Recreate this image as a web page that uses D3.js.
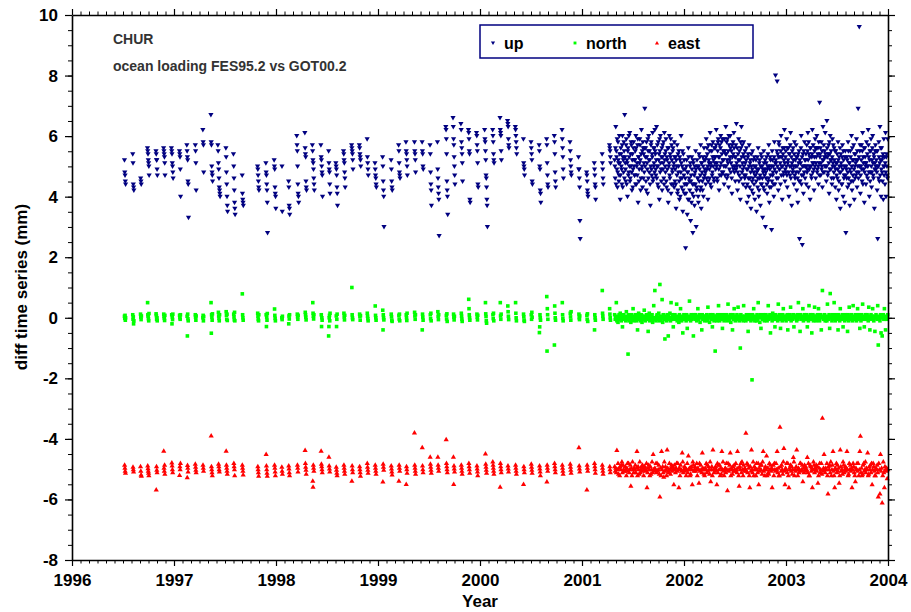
<!DOCTYPE html>
<html>
<head>
<meta charset="utf-8">
<script src="https://cdn.jsdelivr.net/npm/d3@7"></script>
<style>
body { margin: 0; background: #fff; }
svg text { font-family: "Liberation Sans", Arial, Helvetica, sans-serif; font-weight: bold; }
</style>
</head>
<body>
<svg id="chart" width="911" height="612"></svg>
<script>
// axis ticks
const yearTicks = [1996, 1997, 1998, 1999, 2000, 2001, 2002, 2003, 2004];
const valueTicks = [-8, -6, -4, -2, 0, 2, 4, 6, 8, 10];

// sparse period: one column of daily values roughly every four weeks
const sparseEpochs = [
  1996.520, 1996.601, 1996.676, 1996.748, 1996.830, 1996.905, 1996.983, 1997.059, 1997.134, 1997.213,
  1997.287, 1997.370, 1997.441, 1997.517, 1997.591, 1997.674, 1997.826, 1997.909, 1997.990, 1998.060,
  1998.129, 1998.213, 1998.291, 1998.366, 1998.448, 1998.523, 1998.595, 1998.670, 1998.748, 1998.824,
  1998.899, 1998.977, 1999.052, 1999.134, 1999.209, 1999.281, 1999.363, 1999.438, 1999.517, 1999.591,
  1999.674, 1999.745, 1999.821, 1999.895, 1999.974, 2000.059, 2000.131, 2000.203, 2000.277, 2000.353,
  2000.431, 2000.507, 2000.588, 2000.660, 2000.735, 2000.811, 2000.889, 2000.974, 2001.052, 2001.127,
  2001.203, 2001.275
];

const upSparse = [
  [5.2,4.8,4.7,4.5,4.4], [5.4,5.1,4.4,4.3,4.2], [4.6,4.5,4.4], [5.6,5.5,5.4,5.2,5.1,5.0,4.7],
  [5.5,5.4,5.2,5.2,4.9,4.7], [5.6,5.5,5.4,5.3,5.1,4.7], [5.6,5.5,5.4,5.1,5.0,4.8,4.6], [5.5,5.4,5.3,4.9,4.0],
  [5.7,5.5,5.3,5.2,4.5,4.4,3.3], [5.7,5.5,5.1,4.2], [6.2,5.8,5.7,4.8], [6.7,5.8,5.7,5.0,4.8,4.7,4.5],
  [5.7,5.5,5.1,4.9,4.6,4.3,4.2,4.1,4.0], [5.6,5.3,4.8,4.4,4.0,3.7,3.5], [5.4,5.0,4.6,4.2,3.8,3.6,3.4], [4.7,4.1,3.9,3.8,3.7],
  [5.0,4.9,4.7,4.5,4.3,4.2], [5.1,4.8,4.7,4.4,4.2,3.8,2.8], [5.2,5.0,4.9,4.3,4.1,4.0,3.6], [5.0,3.5],
  [4.5,4.3,3.7,3.6,3.4], [6.0,5.7,5.5,5.0,4.4,4.1,4.0,3.8], [6.1,5.6,5.4,5.3,4.5,4.3,4.2], [5.7,5.5,5.2,5.1,4.9,4.6,4.4,4.2],
  [5.7,5.3,5.2,5.0,4.8,4.7,4.0], [5.5,5.1,4.9,4.8,4.4,4.1], [5.1,5.0,4.9,4.7,4.3,4.1,3.7], [5.5,5.4,5.2,5.1,4.8,4.6,4.3],
  [5.7,5.6,5.5,5.4,5.2,4.9], [5.7,5.6,5.4,5.3,5.2,5.0], [5.9,5.3,5.1,4.9,4.7], [5.1,4.9,4.7,4.6,4.4,4.3],
  [5.3,5.0,4.5,4.2,4.0,3.0], [5.2,4.9,4.5,4.3,4.2], [5.7,5.5,5.1,4.8,4.7,4.6], [5.8,5.5,5.4,5.2,5.0,4.7],
  [5.8,5.5,5.4,5.2,4.8], [5.8,5.5,5.4,5.0,4.9], [5.7,5.4,4.8,4.4,4.2,3.7], [5.8,4.9,4.6,4.3,4.1,3.9,2.7],
  [6.3,6.2,5.9,5.4,4.5,4.2,4.0,3.4], [6.6,6.3,5.9,5.7,5.3,5.0,4.7,4.4], [6.4,6.2,5.8,5.6,5.4,5.1,4.5], [6.2,6.1,5.9,5.5,5.4,3.9,3.8],
  [6.1,6.0,5.7,5.5,5.1,4.4,4.3], [6.2,5.9,5.8,5.5,5.2,4.7,4.6,4.3,3.9,3.7,3.0], [6.2,6.0,5.8,5.4,5.2,5.1], [6.6,6.2,6.1,6.0,5.5,5.2],
  [6.5,6.4,6.3,5.9,5.7,5.6], [6.3,6.2,6.0,5.8,5.6,5.4], [5.9,5.1,5.0,4.9,4.7], [5.8,5.6,5.4,5.2,4.5,4.4],
  [5.7,5.5,5.0,4.9,4.2,4.1,3.8], [5.9,5.7,5.1,4.7,4.4,4.3], [6.0,5.8,5.4,4.8,4.5,4.3], [6.2,5.9,5.6,5.3,4.9,4.6],
  [5.8,5.5,5.2,5.0,4.8,4.7], [5.3,4.9,4.9,4.6,4.3,3.2,2.6], [4.8,4.7,4.5,4.2,4.1,4.0], [5.1,4.9,4.7,4.4,4.3,3.9],
  [5.4,5.1,4.9,4.6,4.4], [5.7,5.6,5.5,5.3,5.1]
];

const northSparse = [
  [0.05,-0.02,0.08,-0.08,0], [0.1,-0.05,0.03,-0.2,-0.1], [0.12,0.02,-0.06,0.06], [0.5,0.1,0.05,-0.03,-0.1,0.14],
  [0.13,0.07,-0.05,0,-0.1], [0.12,0.04,-0.02,-0.09,0.08], [0.1,-0.2,0.03,-0.06,0.12], [0.08,0,-0.05,0.1],
  [0.05,-0.6,0.12,-0.03,-0.1], [0.1,0.02,-0.08,0.06], [0,0.08,-0.1,0.04], [0.5,-0.51,0.1,0.02,-0.08,0.13],
  [0.18,0.06,-0.02,-0.1,0.1], [0.2,0.08,-0.05,0.12,-0.09], [0.12,0.03,-0.07,0.18,-0.1], [0.79,0.1,0,-0.08],
  [0.15,0.05,-0.05,-0.1,0.1], [0.1,-0.29,0.02,-0.08,0.14], [0.29,0.08,-0.02,-0.1], [0,-0.06,0.05],
  [-0.2,0.06,-0.04,0.1], [0.12,0.03,-0.05,0.08], [0.18,0.1,0.02,-0.07], [0.5,0.15,0.05,-0.04,0.1],
  [0.1,-0.29,0,-0.08], [-0.6,-0.29,0,0.08,-0.1,0.15], [0.06,-0.29,-0.05,0.12], [0.15,0.03,-0.07,0.08],
  [1.0,0.1,0,-0.06], [0.12,0.04,-0.08,0.07], [0.15,0.05,-0.03,-0.1], [0.39,0.08,0,-0.08],
  [0.25,-0.4,0.1,0,-0.07], [0.12,0.03,-0.08,-0.12], [0.08,-0.04,0.12,-0.1], [0.1,0,-0.09,0.15],
  [0.18,0.06,-0.05,0.1], [-0.4,0.12,0.02,-0.08], [0.1,-0.03,0.15,-0.1], [0.2,0.05,-0.06,0.1],
  [0.08,-0.04,0.13,-0.12], [0.12,0.02,-0.07,0.05], [0.15,0.05,-0.05,-0.12], [0.61,0.3,0.1,0,-0.08],
  [0.12,0.02,-0.07,0.08], [0.5,0.13,0.04,-0.1,-0.18], [0.1,-0.03,0.15,-0.1], [0.5,0.06,-0.05,0.12],
  [0.39,0.2,0.05,-0.06], [0.5,0.15,0,-0.1], [0.12,0.03,-0.08,-0.12], [0.1,-0.05,0.18,0.02],
  [-0.49,-0.3,0.1,0,-0.08], [0.7,-1.1,0.3,0.1,-0.05], [-0.9,0.39,0.15,0,-0.08], [0.5,0.1,-0.02,-0.1],
  [0.15,0.03,-0.08,0.2], [0.12,0,-0.06,0.06], [0.08,-0.05,0.13,-0.12], [-0.4,0.1,0,-0.08],
  [0.9,0.15,0.05,-0.05], [0.3,0.12,0,-0.08]
];

const eastSparse = [
  [-4.85,-4.95,-5.05,-5.12], [-4.92,-5.0,-5.08], [-4.9,-5.05,-5.18,-5.22], [-4.88,-4.97,-5.05,-5.12,-5.2],
  [-5.67,-4.9,-5.02,-5.1], [-4.39,-4.95,-5.05,-4.85,-5.15], [-4.78,-4.88,-5.0,-5.1], [-5.19,-4.9,-5.0,-4.8],
  [-5.27,-4.86,-4.95,-5.08], [-4.82,-4.92,-5.02,-5.1], [-4.85,-4.95,-5.05], [-3.89,-4.9,-5.0,-5.1,-5.2],
  [-4.82,-4.9,-5.0,-5.08], [-4.39,-4.85,-4.95,-5.05,-5.15], [-4.8,-4.9,-5.0,-5.2], [-4.85,-4.95,-5.05,-5.18],
  [-4.9,-5.0,-5.1,-5.22], [-4.5,-4.88,-5.0,-5.12,-5.22], [-4.85,-4.95,-5.08,-5.2], [-4.92,-5.05,-5.15],
  [-4.88,-4.98,-5.1,-5.2], [-4.85,-4.95,-5.08], [-4.37,-4.8,-4.92,-5.02,-5.15], [-5.38,-5.58,-4.85,-4.95,-5.05],
  [-4.39,-4.82,-4.9,-5.0,-5.1], [-4.59,-4.88,-4.98,-5.08], [-4.92,-5.02,-5.12,-5.2], [-4.85,-4.95,-5.05,-5.15],
  [-5.38,-4.88,-5.0,-5.1], [-4.9,-5.0,-5.1,-5.22], [-4.8,-4.92,-5.02,-5.12], [-4.85,-4.95,-5.05,-5.15],
  [-5.41,-4.82,-4.92,-5.02], [-4.88,-4.98,-5.08,-5.18], [-5.38,-4.85,-4.95,-5.05], [-5.49,-4.9,-5.0,-5.12],
  [-3.79,-4.85,-4.95,-5.05,-5.15], [-4.28,-4.88,-5.0,-5.1], [-4.59,-4.82,-4.92,-5.02,-5.12], [-4.59,-4.85,-4.95,-5.05],
  [-4.01,-4.8,-4.9,-5.0,-5.1], [-4.59,-5.49,-4.88,-4.98,-5.08], [-4.85,-4.95,-5.05,-5.15], [-4.8,-4.9,-5.0,-5.12],
  [-4.88,-4.98,-5.08,-5.2], [-4.48,-4.82,-4.92,-5.02,-5.12], [-4.75,-4.85,-4.95,-5.05,-5.15], [-5.58,-4.8,-4.9,-5.0,-5.1],
  [-4.88,-4.98,-5.08], [-4.85,-4.95,-5.05,-5.15], [-5.49,-4.9,-5.0,-5.1], [-4.82,-4.92,-5.02,-5.12],
  [-4.88,-4.98,-5.08,-5.2], [-5.41,-4.85,-4.95,-5.05], [-4.8,-4.9,-5.0,-5.1], [-4.85,-4.95,-5.05,-5.15],
  [-4.82,-4.92,-5.02,-5.12], [-4.28,-4.88,-4.98,-5.08], [-5.67,-4.85,-4.95,-5.05], [-4.8,-4.9,-5.0,-5.12],
  [-4.85,-4.95,-5.05,-5.15], [-4.9,-5.0,-5.1]
];

// dense period: a value every second day from denseStart to the end of 2003
const denseStart = 2001.32;
const denseStepDays = 2;

const upDense = [
  5.2,4.6,6.3,5.5,4.9,4.3,5.8,5.1,4.7,5.4,3.9,5.6,5.0,4.4,6.0,5.3,4.8,5.5,
  6.7,5.1,4.5,5.9,5.2,4.0,5.6,4.8,5.3,6.1,4.6,5.0,5.7,4.2,5.4,4.9,5.8,5.2,
  4.7,5.5,6.0,4.4,5.1,5.7,3.8,5.3,4.9,5.9,5.2,4.6,6.2,5.0,4.3,5.6,5.4,4.8,
  6.9,5.3,4.5,5.8,5.1,4.1,5.5,6.0,4.8,5.2,3.7,5.7,4.9,5.4,6.1,4.6,5.0,5.6,
  6.2,5.4,4.7,6.3,5.0,4.4,5.8,5.2,3.9,5.5,6.0,4.9,5.3,4.2,5.7,5.1,4.6,6.1,
  5.4,4.8,5.9,4.3,5.2,5.6,3.8,5.0,6.0,4.6,5.3,4.1,5.7,4.9,5.5,4.4,5.1,5.8,
  4.5,5.3,3.6,5.0,5.7,4.2,4.8,5.5,3.9,5.2,4.6,6.0,4.3,5.0,3.5,5.4,4.7,4.1,
  4.9,2.3,4.4,5.2,3.4,4.8,5.6,3.9,4.5,5.0,3.2,4.7,5.3,4.1,2.8,5.1,4.4,3.7,
  4.8,5.5,3.0,4.3,5.0,4.6,3.8,5.4,4.9,4.2,5.7,3.6,5.1,4.5,5.3,4.0,5.6,4.7,
  5.2,4.4,5.9,4.9,5.4,3.9,5.7,5.1,4.6,6.1,5.0,4.3,5.5,4.8,5.8,5.2,4.5,5.3,
  5.6,4.9,6.2,5.1,4.5,5.8,5.3,4.2,5.7,5.0,6.0,4.7,5.4,5.9,4.8,5.2,4.4,5.5,
  5.0,6.3,5.4,4.6,5.9,5.1,4.3,5.7,5.2,6.0,4.8,5.5,4.1,5.3,5.8,4.9,5.6,5.0,
  4.5,5.7,6.4,5.0,4.2,5.4,5.9,4.7,5.2,3.9,5.6,6.3,4.8,5.1,4.4,5.8,5.3,4.6,
  5.1,4.3,5.6,3.8,4.9,5.4,4.0,5.7,4.6,5.2,3.6,5.0,4.5,5.5,4.1,4.8,5.3,3.9,
  4.7,5.2,3.5,4.9,4.3,5.6,4.0,5.1,4.6,3.7,5.4,4.4,5.0,3.3,4.8,5.5,4.2,4.9,
  3.0,4.6,5.3,4.1,5.0,4.5,5.7,3.8,4.9,5.2,4.3,2.9,5.5,4.7,5.0,4.0,5.8,4.4,
  8.0,5.1,4.6,7.8,5.4,4.2,5.8,4.9,5.3,4.4,6.0,5.0,3.9,5.6,4.7,5.2,6.2,4.5,
  5.3,4.8,5.9,4.3,5.1,5.6,4.0,5.4,4.7,6.1,5.0,3.7,5.5,4.9,5.2,4.4,5.8,4.6,
  5.0,5.7,4.2,5.3,3.8,4.8,5.5,2.6,4.5,5.1,6.0,4.7,2.4,5.4,4.1,5.0,5.8,4.6,
  5.2,4.4,5.7,4.9,6.1,4.3,5.4,5.0,3.9,5.6,4.7,5.3,6.2,4.8,5.1,4.2,5.5,5.9,
  4.6,5.3,6.0,4.9,5.6,4.4,5.1,7.1,5.4,4.7,5.8,5.0,4.3,6.3,5.2,4.8,5.5,6.1,
  5.0,4.5,6.5,5.3,4.8,5.7,4.1,5.4,6.0,4.9,5.2,4.4,5.9,5.1,4.6,5.6,5.0,4.3,
  5.5,3.9,5.1,4.6,5.8,4.2,5.3,4.8,3.6,5.4,5.0,4.4,5.7,4.0,5.2,4.7,3.8,5.5,
  2.8,4.9,5.3,4.3,5.8,4.6,5.1,3.7,5.5,4.8,6.0,4.2,5.2,4.5,5.7,3.9,5.0,5.4,
  4.7,5.9,4.3,5.2,6.9,4.8,9.6,5.5,4.1,5.0,5.7,4.5,6.1,5.3,4.9,3.8,5.6,5.1,
  4.4,5.8,5.0,4.6,6.2,5.3,4.0,5.5,4.8,5.9,4.3,5.2,6.0,4.7,5.4,3.6,5.1,5.7,
  4.9,5.5,4.2,2.6,5.0,5.8,4.5,6.3,5.2,4.0,5.6,4.8,5.3,3.9,5.9,5.0,4.4,6.1,
  4.0,5.4,4.7,5.9
];

// the in-between days of the up series (one day after each upDense value)
const upDenseB = [
  5.0,5.6,4.4,5.3,5.9,4.8,5.2,4.5,6.0,5.1,4.7,5.4,4.9,5.7,4.3,5.2,5.8,4.6,
  5.3,4.9,5.7,4.4,5.1,5.5,4.7,6.0,5.0,4.5,5.4,5.8,4.8,5.2,4.3,5.6,5.0,4.7,
  5.2,4.4,5.6,5.0,4.7,5.9,5.3,4.5,5.1,5.7,4.2,5.4,4.9,5.5,5.8,4.6,5.1,5.6,
  5.0,5.6,4.2,5.3,4.9,5.9,4.6,5.2,5.5,4.4,5.0,5.8,4.7,5.3,4.5,5.6,5.1,4.8,
  5.5,4.9,5.2,4.6,5.7,5.0,4.3,5.4,5.9,4.8,5.1,4.5,5.6,5.3,4.9,5.8,4.4,5.2,
  5.0,5.5,4.5,5.3,4.9,4.2,5.6,5.1,4.7,5.4,5.9,4.4,5.2,4.8,5.6,5.0,4.3,5.3,
  4.9,4.4,5.2,4.7,4.1,5.4,5.0,4.5,5.3,4.0,4.8,5.1,4.6,5.5,4.2,4.9,5.2,4.4,
  4.6,4.1,5.0,4.4,4.8,3.9,5.3,4.6,4.2,5.1,4.5,3.8,4.9,4.4,5.2,4.0,4.7,5.0,
  4.4,4.9,4.2,5.2,4.6,4.0,5.0,4.5,5.3,4.7,4.3,5.1,4.8,4.2,5.0,4.6,5.2,4.9,
  4.8,5.3,4.6,5.6,5.0,4.5,5.2,4.9,5.5,4.4,5.1,5.7,4.7,5.3,5.0,4.6,5.6,5.1,
  5.3,5.7,5.0,4.6,5.5,5.9,4.9,5.3,4.7,5.6,5.1,5.8,4.8,5.2,5.5,5.0,5.9,4.7,
  5.4,5.0,5.8,5.2,4.7,5.5,6.0,4.9,5.3,5.6,5.1,4.6,5.7,5.0,5.4,6.1,4.8,5.3,
  5.3,4.9,5.1,5.6,4.8,5.2,4.5,5.5,5.0,5.8,4.6,5.3,5.7,4.9,5.4,5.0,4.7,5.5,
  4.7,5.2,4.9,4.4,5.3,4.6,5.0,4.3,5.1,4.8,5.4,4.2,4.9,4.6,5.2,4.4,5.0,4.7,
  5.0,4.5,4.8,5.3,4.6,4.9,4.2,5.2,4.7,5.0,4.4,5.3,4.6,4.9,4.3,5.1,4.7,5.2,
  4.8,5.1,4.4,4.9,5.4,4.6,5.0,4.3,5.3,4.7,5.0,4.5,5.2,4.8,4.4,5.3,4.9,5.1,
  5.2,4.8,5.5,5.0,4.6,5.3,5.7,4.9,5.1,5.5,4.7,5.3,5.0,5.4,4.8,5.6,5.1,4.9,
  5.5,5.0,4.7,5.6,5.2,4.8,5.4,5.0,5.7,4.6,5.3,5.1,4.8,5.6,5.0,5.4,4.7,5.2,
  4.8,5.3,5.0,4.6,5.4,5.1,4.5,5.2,4.9,5.6,4.4,5.3,5.0,4.7,5.5,4.8,5.2,5.0,
  5.4,5.0,4.8,5.5,5.2,5.8,4.9,5.3,5.6,5.0,4.6,5.4,5.1,5.7,4.9,5.3,5.0,5.6,
  5.1,5.6,4.8,5.4,5.0,5.8,4.7,5.3,5.6,5.1,4.9,5.5,5.2,4.8,5.7,5.3,5.0,5.4,
  5.3,5.0,5.6,4.7,5.4,5.1,5.8,4.9,5.2,5.5,4.6,5.3,5.0,5.7,4.8,5.2,5.5,4.9,
  5.1,4.7,5.4,4.9,5.2,4.5,5.0,5.6,4.8,5.1,4.4,5.3,4.9,5.5,4.6,5.0,5.3,4.7,
  5.0,4.6,5.2,4.8,5.5,4.4,5.1,4.9,5.3,4.5,5.0,5.6,4.7,5.2,4.9,5.4,4.6,5.1,
  5.2,4.8,5.5,5.0,4.6,5.3,5.0,5.7,4.7,5.2,4.9,5.5,4.4,5.1,5.6,4.8,5.3,5.0,
  5.1,4.7,5.4,5.0,5.7,4.8,5.2,4.5,5.5,5.0,4.8,5.6,5.1,4.6,5.3,4.9,5.5,5.0,
  5.2,4.8,5.5,5.0,4.6,5.3,5.1,4.7,5.6,4.9,5.2,4.5,5.4,5.0,4.7,5.3,5.1,4.8,
  5.3,5.0,4.6
];

const northDense = [
  0.1,-0.05,0,0.5,-0.1,0.05,-0.15,0,0.1,-0.05,0.15,0,-0.1,0.05,-0.3,0,0.1,-0.05,
  0,0.05,-0.1,0.2,0,-0.05,-1.2,0.1,-0.1,0,0.05,-0.15,0.1,0,-0.05,0.3,-0.1,0.05,
  -0.05,0.1,0,-0.1,0.05,-0.4,0,0.15,-0.05,0.05,-0.1,0,0.1,-0.15,0.05,0,-0.05,0.25,
  0.05,-0.1,0,0.1,-0.05,0.05,-0.45,0,0.15,-0.1,0.05,0,-0.05,0.1,-0.15,0,0.4,-0.05,
  0.9,0,-0.1,0.05,0.1,-0.05,0,0.15,-0.1,1.1,0.05,-0.05,0,0.6,-0.15,0.1,0,-0.05,
  -0.7,0.05,0,-0.1,0.1,-0.05,-0.6,0.05,0,0.15,-0.1,0.5,0,-0.05,0.1,-0.3,0.05,0,
  0.1,-0.05,0,0.45,-0.1,0.05,0,-0.15,0.1,-0.05,0.3,0,-0.1,0.05,-0.5,0,0.1,-0.05,
  0,0.05,-0.1,0.1,-0.35,0,0.05,-0.05,0.55,0,-0.1,0.1,-0.05,0,0.05,-0.6,0.1,0,
  -0.05,0.1,0,-0.1,0.05,0.3,-0.05,0,0.1,-0.15,0.05,0,-0.4,0.1,-0.05,0,0.05,-0.1,
  0.05,0,-0.05,0.1,-0.1,0.35,0,0.05,-0.15,0.1,0,-0.05,0.05,-0.3,0.1,0,-0.1,0.05,
  -1.1,0.05,0,-0.1,0.1,-0.05,0.4,0,-0.1,0.05,0.1,-0.05,0,-0.35,0.05,0.1,-0.1,0,
  0.05,-0.05,0.1,0,-0.1,0.45,0.05,-0.05,0,0.1,-0.15,0.05,0,-0.4,0.1,-0.05,0.3,0,
  -0.1,0.05,0,0.1,-0.05,0.35,0,-0.1,0.05,-1.0,0.1,0,-0.05,0.05,-0.1,0.4,0,0.05,
  0,-0.1,0.1,-0.05,0.05,-0.45,0,0.1,-0.05,0.05,-0.1,0,-2.05,0.1,-0.05,0.3,0,-0.1,
  0.05,0,-0.1,0.1,-0.05,0.5,0,0.05,-0.15,0.1,-0.35,0,0.05,-0.05,0.1,0,-0.1,0.05,
  -0.05,0.1,0,-0.1,0.05,0.4,-0.05,0,0.1,-0.5,0.05,0,-0.1,0.15,-0.05,0.05,0,-0.3,
  0.1,-0.05,0,0.05,-0.1,0.45,0,0.1,-0.05,-0.35,0.05,0,-0.1,0.1,0.3,-0.05,0,0.05,
  0,-0.1,0.05,0.1,-0.4,0,0.05,-0.05,0.1,0.35,-0.1,0,0.05,-0.05,0.1,-0.3,0,0.05,
  0.05,0,-0.1,0.1,-0.05,0.5,0,0.05,-0.45,0.1,-0.05,0,0.05,0.3,-0.1,0,0.1,-0.05,
  -0.05,0.1,0,-0.3,0.05,-0.1,0.4,0,0.1,-0.05,0.05,-0.5,0,0.1,-0.1,0.05,0.35,0,
  0.05,-0.1,0,0.1,-0.05,0.3,0,-0.1,0.05,0.1,-0.4,0,0.9,0.05,-0.05,0,0.1,-0.1,
  0,0.05,-0.1,0.45,0,-0.05,0.1,-0.35,0.8,0,0.05,-0.1,0.1,0,-0.05,0.5,0.05,-0.1,
  0.1,0,-0.05,0.05,-0.4,0.1,0,-0.1,0.3,0.05,-0.05,0,0.1,-0.3,0.05,0,-0.1,0.1,
  -0.05,0.05,0,-0.45,0.1,-0.1,0.35,0,0.05,-0.05,0.1,0,-0.1,0.4,0.05,-0.05,0,0.1,
  0,-0.1,0.05,0.3,-0.05,0.1,0,-0.35,0.05,-0.1,0.1,0,0.45,-0.05,0.05,-0.3,0,0.1,
  0.05,-0.05,0.1,0,-0.1,0.35,0.05,-0.4,0,0.1,-0.05,0.05,0.3,0,-0.1,0.05,-0.45,0,
  0.1,0,-0.05,0.4,-0.9,0.05,0,-0.1,0.1,-0.5,0.05,-0.6,0,0.1,-0.05,0.3,0,-0.4,
  0.05,-0.05,0,0.1
];

const eastDense = [
  -4.9,-5.05,-4.95,-5.1,-4.37,-5.0,-4.8,-5.15,-4.95,-5.2,-4.9,-5.0,-4.85,-4.75,-5.1,-4.85,-5.0,-5.05,
  -5.05,-4.9,-5.0,-5.2,-4.95,-4.8,-5.05,-4.8,-5.1,-5.0,-4.85,-5.55,-4.95,-5.2,-4.75,-5.0,-5.1,-4.95,
  -5.0,-4.85,-5.1,-4.95,-4.4,-5.2,-4.9,-5.0,-5.15,-4.75,-5.1,-5.0,-4.9,-5.05,-4.85,-4.95,-5.2,-5.0,
  -4.9,-5.05,-5.0,-4.8,-5.6,-5.1,-4.95,-4.85,-5.0,-5.2,-4.9,-5.15,-5.0,-4.75,-5.1,-4.5,-5.0,-5.05,
  -4.95,-5.0,-4.8,-5.1,-4.8,-5.05,-5.0,-4.85,-5.15,-5.9,-4.95,-5.2,-4.4,-5.0,-4.9,-5.1,-5.25,-4.75,
  -5.05,-4.9,-5.0,-5.2,-4.35,-4.95,-5.05,-5.1,-4.8,-5.0,-5.15,-4.95,-4.85,-5.05,-4.9,-5.0,-5.5,-4.85,
  -5.0,-5.1,-4.95,-4.8,-5.05,-4.8,-5.0,-5.6,-4.95,-5.2,-4.85,-5.0,-5.05,-4.45,-4.75,-5.1,-5.0,-4.9,
  -5.05,-4.95,-5.2,-5.0,-4.8,-5.1,-4.55,-5.0,-4.95,-5.2,-5.15,-4.9,-5.0,-5.5,-4.75,-4.85,-5.05,-5.0,
  -4.9,-5.05,-5.0,-4.8,-5.2,-4.95,-5.0,-5.45,-4.8,-5.05,-4.85,-5.0,-5.1,-4.45,-4.95,-5.0,-5.15,-5.2,
  -4.95,-5.0,-4.8,-5.1,-4.85,-5.05,-4.9,-5.0,-5.15,-4.75,-5.4,-5.0,-4.9,-5.2,-4.35,-5.0,-5.1,-4.95,
  -5.05,-4.9,-5.0,-5.5,-4.8,-5.1,-4.85,-5.0,-4.85,-5.2,-4.95,-5.15,-4.4,-5.0,-4.75,-5.05,-5.2,-5.0,
  -4.95,-5.1,-4.8,-5.0,-5.7,-4.8,-5.05,-5.0,-4.85,-4.45,-5.2,-4.95,-5.0,-5.15,-4.9,-5.05,-4.85,-5.0,
  -5.05,-4.8,-5.0,-5.1,-4.4,-4.95,-5.2,-5.55,-4.9,-5.0,-4.8,-5.1,-4.75,-5.0,-5.2,-4.85,-5.05,-4.95,
  -5.0,-3.8,-5.05,-4.8,-5.1,-4.85,-4.95,-5.2,-5.6,-4.9,-5.05,-4.35,-5.0,-5.1,-4.75,-5.2,-4.9,-5.0,
  -4.95,-5.2,-4.8,-5.0,-5.1,-4.8,-5.5,-4.95,-5.05,-4.85,-5.0,-4.85,-5.15,-4.75,-4.4,-5.05,-5.0,-5.2,
  -4.9,-5.0,-4.55,-5.2,-4.95,-5.1,-5.15,-4.8,-5.0,-4.85,-5.05,-4.95,-5.6,-5.0,-4.85,-5.2,-4.8,-5.0,
  -5.05,-4.8,-5.0,-4.4,-5.1,-4.95,-5.2,-5.2,-3.6,-4.9,-5.05,-4.85,-5.0,-5.15,-4.75,-4.3,-5.05,-5.5,
  -4.95,-5.0,-4.8,-5.1,-4.8,-5.2,-5.6,-4.95,-5.0,-4.85,-5.05,-4.9,-5.15,-5.0,-4.6,-4.75,-5.2,-5.0,
  -5.05,-4.9,-4.35,-5.0,-5.2,-4.95,-5.1,-5.0,-4.8,-4.8,-5.05,-5.0,-4.85,-5.4,-4.95,-5.1,-4.85,-5.0,
  -4.9,-5.05,-5.0,-4.6,-5.1,-4.8,-5.2,-5.2,-4.85,-4.9,-5.05,-4.95,-5.6,-5.0,-4.75,-4.85,-5.1,-4.95,
  -5.0,-4.85,-5.05,-4.9,-5.45,-5.2,-4.95,-4.8,-5.1,-5.0,-4.8,-5.15,-3.3,-5.05,-4.95,-4.5,-5.0,-5.1,
  -4.95,-5.0,-4.8,-5.2,-5.8,-4.9,-5.0,-4.85,-5.1,-4.75,-5.2,-5.0,-4.85,-4.4,-5.05,-5.2,-5.6,-4.95,
  -5.0,-4.8,-5.1,-4.85,-5.05,-4.95,-5.45,-5.2,-4.35,-4.9,-5.05,-5.0,-5.15,-4.75,-4.85,-5.1,-5.0,-4.9,
  -5.05,-4.95,-4.4,-5.0,-5.2,-5.15,-4.8,-5.0,-4.85,-5.05,-4.95,-5.6,-5.0,-4.8,-4.9,-5.1,-5.2,-5.4,
  -4.95,-5.0,-4.8,-5.05,-4.8,-5.2,-5.0,-4.4,-3.9,-5.1,-4.95,-5.2,-5.15,-4.85,-4.8,-5.05,-5.0,-4.75,
  -5.1,-4.95,-5.0,-4.45,-5.2,-5.15,-4.9,-5.0,-4.85,-5.1,-4.8,-5.5,-5.0,-4.8,-4.9,-5.05,-5.2,-5.2,
  -4.95,-5.0,-4.85,-5.1,-5.9,-4.8,-5.0,-5.8,-4.5,-5.05,-4.95,-6.1,-5.2,-4.75,-5.1,-5.6,-4.9,-5.0,
  -5.05,-4.95,-5.3,-5.0
];

const legendNames = ["up", "north", "east"];

// ---------------------------------------------------------------
const DAY = 1 / 365.25;
const svg = d3.select("#chart");

const x = d3.scaleLinear().domain([1996, 2004]).range([72, 888]);
const y = d3.scaleLinear().domain([-8, 10]).range([560, 15]);

function sparsePoints(cols) {
  const pts = [];
  cols.forEach((col, i) => {
    const n = col.length;
    col.forEach((v, k) => pts.push({ t: sparseEpochs[i] + (k - (n - 1) / 2) * DAY, v: v }));
  });
  return pts;
}

function densePoints(vals, offsetDays) {
  return vals.map((v, i) => ({ t: denseStart + (i * denseStepDays + (offsetDays || 0)) * DAY, v: v }));
}

const markers = {
  up:    { path: "M-2.6,-2L2.6,-2L0,2.5Z", fill: "#000080" },
  north: { path: "M-1.8,-1.8H1.8V1.8H-1.8Z", fill: "#00ff00" },
  east:  { path: "M-2.6,2L2.6,2L0,-2.5Z", fill: "#ff0000" }
};

const series = [
  { name: "up",    pts: sparsePoints(upSparse).concat(densePoints(upDense), densePoints(upDenseB, 1)) },
  { name: "north", pts: sparsePoints(northSparse).concat(densePoints(northDense)) },
  { name: "east",  pts: sparsePoints(eastSparse).concat(densePoints(eastDense)) }
];

// markers
series.forEach(s => {
  const m = markers[s.name];
  svg.append("g").attr("class", "pts-" + s.name)
    .selectAll("path")
    .data(s.pts)
    .enter().append("path")
    .attr("d", m.path)
    .attr("transform", d => "translate(" + x(d.t) + "," + y(d.v) + ")")
    .attr("fill", m.fill);
});

// axes on all four sides
const monthTicks = d3.range(1996, 2004.001, 1 / 12);
const halfTicks = d3.range(-8, 10.001, 0.5);
const plain = d => String(d);

function styleAxis(g) {
  g.selectAll(".domain").attr("stroke", "#000").attr("stroke-width", 1.6);
  g.selectAll(".tick line").attr("stroke", "#000").attr("stroke-width", 1.2);
  g.selectAll("text").attr("font-family", null).attr("font-size", 17).attr("fill", "#000");
}

function minor(g) {
  g.select(".domain").remove();
  g.selectAll(".tick line").attr("stroke", "#000").attr("stroke-width", 1);
}

svg.append("g").attr("transform", "translate(0,560)")
  .call(d3.axisBottom(x).tickValues(monthTicks).tickSize(3.5).tickFormat("")).call(minor);
svg.append("g").attr("transform", "translate(0,15)")
  .call(d3.axisTop(x).tickValues(monthTicks).tickSize(3.5).tickFormat("")).call(minor);
svg.append("g").attr("transform", "translate(72,0)")
  .call(d3.axisLeft(y).tickValues(halfTicks).tickSize(4).tickFormat("")).call(minor);
svg.append("g").attr("transform", "translate(888,0)")
  .call(d3.axisRight(y).tickValues(halfTicks).tickSize(4).tickFormat("")).call(minor);

svg.append("g").attr("transform", "translate(0,560)")
  .call(d3.axisBottom(x).tickValues(yearTicks).tickFormat(plain).tickSize(6).tickSizeOuter(0).tickPadding(8))
  .call(styleAxis);
svg.append("g").attr("transform", "translate(0,15)")
  .call(d3.axisTop(x).tickValues(yearTicks).tickFormat("").tickSize(6).tickSizeOuter(0))
  .call(styleAxis);
svg.append("g").attr("transform", "translate(72,0)")
  .call(d3.axisLeft(y).tickValues(valueTicks).tickFormat(plain).tickSize(7).tickSizeOuter(0).tickPadding(7))
  .call(styleAxis);
svg.append("g").attr("transform", "translate(888,0)")
  .call(d3.axisRight(y).tickValues(valueTicks).tickFormat("").tickSize(7).tickSizeOuter(0))
  .call(styleAxis);

// axis titles
svg.append("text")
  .attr("x", 480).attr("y", 607)
  .attr("text-anchor", "middle").attr("font-size", 17)
  .text("Year");

svg.append("text")
  .attr("transform", "translate(27,287) rotate(-90)")
  .attr("text-anchor", "middle").attr("font-size", 17)
  .text("diff time series (mm)");

// station annotation
svg.append("text").attr("x", 113).attr("y", 44).attr("font-size", 14).attr("fill", "#333").text("CHUR");
svg.append("text").attr("x", 113).attr("y", 71).attr("font-size", 14).attr("fill", "#333")
  .text("ocean loading FES95.2 vs GOT00.2");

// legend
const legend = svg.append("g");
legend.append("rect")
  .attr("x", 480).attr("y", 25).attr("width", 273).attr("height", 33)
  .attr("fill", "#fff").attr("stroke", "#000080").attr("stroke-width", 1.5);

const legendX = d3.scalePoint().domain(legendNames).range([493, 657]);
const item = legend.selectAll("g.item").data(legendNames).enter()
  .append("g").attr("class", "item")
  .attr("transform", d => "translate(" + legendX(d) + ",43)");
item.append("path")
  .attr("d", d => markers[d].path)
  .attr("transform", "scale(0.8)")
  .attr("fill", d => markers[d].fill);
item.append("text")
  .attr("x", 11).attr("y", 6)
  .attr("font-size", 16)
  .text(d => d);
</script>
</body>
</html>
